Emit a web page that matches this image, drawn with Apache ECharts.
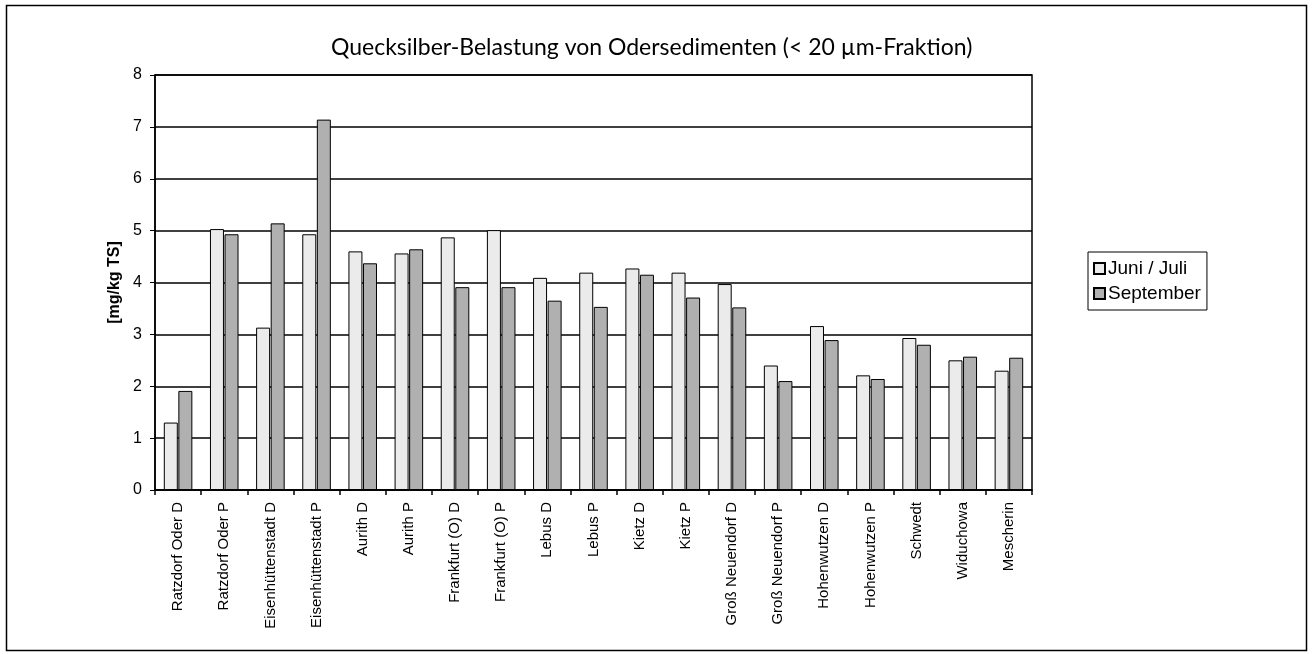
<!DOCTYPE html>
<html>
<head>
<meta charset="utf-8">
<script src="https://cdn.jsdelivr.net/npm/echarts@6/dist/echarts.min.js"></script>
<style>
html,body{margin:0;padding:0;background:#fff;}
#c{width:1316px;height:654px;}
</style>
</head>
<body>
<div id="c"></div>
<script>
const categories = ["Ratzdorf Oder D","Ratzdorf Oder P","Eisenhüttenstadt D","Eisenhüttenstadt P","Aurith D","Aurith P","Frankfurt (O) D","Frankfurt (O) P","Lebus D","Lebus P","Kietz D","Kietz P","Groß Neuendorf D","Groß Neuendorf P","Hohenwutzen D","Hohenwutzen P","Schwedt","Widuchowa","Mescherin"];
const juniJuli = [1.30,5.03,3.13,4.93,4.60,4.56,4.87,5.01,4.09,4.19,4.27,4.19,3.97,2.40,3.16,2.21,2.93,2.50,2.30];
const september = [1.91,4.93,5.14,7.14,4.37,4.64,3.91,3.91,3.65,3.53,4.15,3.71,3.52,2.10,2.89,2.14,2.80,2.57,2.55];
const yTicks = [0,1,2,3,4,5,6,7,8];

const chart = echarts.init(document.getElementById('c'));
chart.setOption({
  animation:false,
  backgroundColor:'#fff',
  graphic:[{type:'rect',shape:{x:6.5,y:5.5,width:1300,height:645},style:{fill:'none',stroke:'#000',lineWidth:1.5},silent:true}],
  title:{text:'Quecksilber-Belastung von Odersedimenten (< 20 µm-Fraktion)',left:326,top:31,
    textStyle:{fontFamily:'Lato',fontWeight:'normal',fontSize:23,color:'#000'}},
  legend:{orient:'vertical',left:1088,top:252,padding:[7,6,7,5],itemGap:6,itemWidth:11,itemHeight:11,
    borderColor:'#000',borderWidth:1,
    textStyle:{fontFamily:'Liberation Sans',fontSize:19,color:'#000',padding:[0,0,0,-2]},
    data:[{name:'Juni / Juli',icon:'rect'},{name:'September',icon:'rect'}]},
  grid:{left:155,right:284,top:75,bottom:164,show:true,borderColor:'#000',borderWidth:1.5},
  xAxis:{type:'category',data:categories,
    axisLine:{lineStyle:{color:'#000',width:1.5}},
    axisTick:{show:true,length:5,lineStyle:{color:'#000',width:1.5}},
    axisLabel:{rotate:90,interval:0,margin:12,fontFamily:'Liberation Sans',fontSize:15,color:'#000'}},
  yAxis:{type:'value',min:0,max:8,interval:1,
    name:'[mg/kg TS]',nameLocation:'middle',nameGap:27,nameRotate:90,
    nameTextStyle:{fontFamily:'Liberation Sans',fontWeight:'bold',fontSize:16,color:'#000'},
    axisLine:{show:true,lineStyle:{color:'#000',width:1.5}},
    axisTick:{show:true,length:5,lineStyle:{color:'#000'}},
    axisLabel:{margin:13,fontFamily:'Liberation Sans',fontSize:16,color:'#000',
      formatter:v=>yTicks.includes(v)?String(v):''},
    splitLine:{show:true,lineStyle:{color:'#000',width:1.5}}},
  series:[
    {name:'Juni / Juli',type:'bar',data:juniJuli,barWidth:14,barGap:'4%',
      itemStyle:{color:'#ebebeb',borderColor:'#000',borderWidth:1}},
    {name:'September',type:'bar',data:september,barWidth:14,
      itemStyle:{color:'#b0b0b0',borderColor:'#000',borderWidth:1}}
  ]
});
</script>
</body>
</html>
